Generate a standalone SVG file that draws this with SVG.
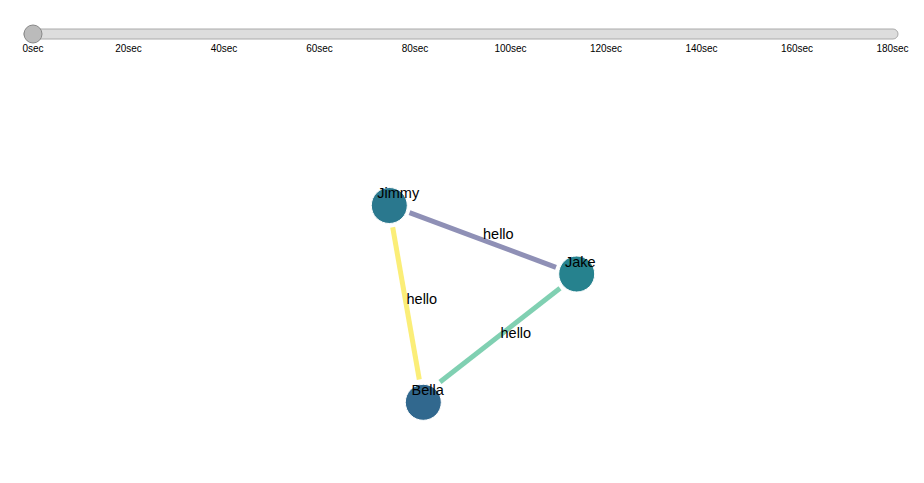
<svg xmlns="http://www.w3.org/2000/svg" width="924" height="483" viewBox="0 0 924 483">
<style>
.tick{font-family:"Liberation Sans",Arial,sans-serif;font-size:10px;fill:#000;text-anchor:middle}
.lbl{font-family:"Liberation Sans",Arial,sans-serif;font-size:14.5px;fill:#000}
.edge{stroke-width:5;fill:none}
.node{stroke:#fff;stroke-width:1}
</style>
<rect width="924" height="483" fill="#fff"/>
<g id="slider">
<rect x="24" y="29" width="874" height="10" rx="5" fill="#dddddd" stroke="#aaaaaa" stroke-width="1"/>
<text class="tick" x="33" y="51.5">0sec</text>
<text class="tick" x="128.5" y="51.5">20sec</text>
<text class="tick" x="224" y="51.5">40sec</text>
<text class="tick" x="319.5" y="51.5">60sec</text>
<text class="tick" x="415" y="51.5">80sec</text>
<text class="tick" x="510.5" y="51.5">100sec</text>
<text class="tick" x="606" y="51.5">120sec</text>
<text class="tick" x="701.5" y="51.5">140sec</text>
<text class="tick" x="797" y="51.5">160sec</text>
<text class="tick" x="892.5" y="51.5">180sec</text>
<circle cx="33" cy="34" r="9" fill="#bbbbbb" stroke="#888888" stroke-width="1"/>
</g>
<g id="connectors">
<line class="edge" x1="409.5" y1="212.7" x2="556" y2="267.3" stroke="#8f90b6"/>
<line class="edge" x1="392.7" y1="227.3" x2="419.3" y2="379.5" stroke="#fbee78"/>
<line class="edge" x1="440" y1="382" x2="560" y2="288.3" stroke="#80d0b2"/>
<text class="lbl" x="483" y="239">hello</text>
<text class="lbl" x="406.5" y="303.5">hello</text>
<text class="lbl" x="500.5" y="337.5">hello</text>
</g>
<g id="node-jimmy">
<circle class="node" cx="389.3" cy="205.5" r="18" fill="#2a788e"/>
<text class="lbl" x="377.3" y="198.3">Jimmy</text>
</g>
<g id="node-jake">
<circle class="node" cx="576.7" cy="274" r="18" fill="#26828e"/>
<text class="lbl" x="565" y="266.5">Jake</text>
</g>
<g id="node-bella">
<circle class="node" cx="423.3" cy="402.3" r="18" fill="#31688e"/>
<text class="lbl" x="411.5" y="394.5">Bella</text>
</g>
</svg>
